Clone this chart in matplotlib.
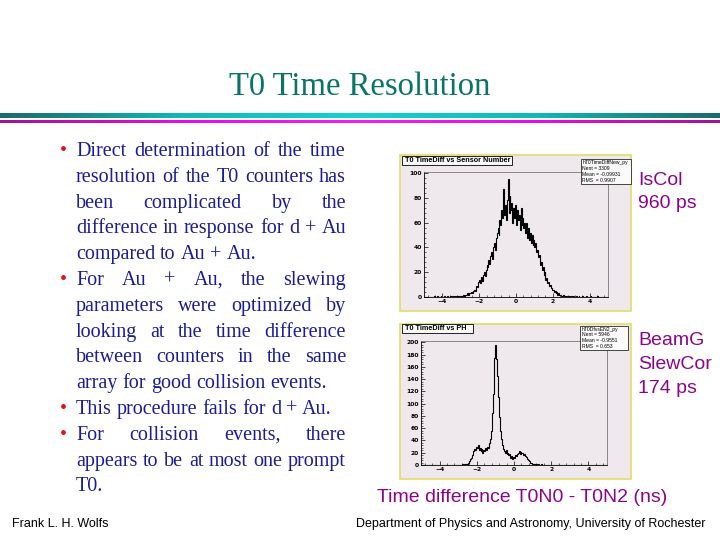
import numpy as np
import matplotlib
matplotlib.use('Agg')
import matplotlib.pyplot as plt
from matplotlib.patches import Rectangle
from matplotlib.colors import LinearSegmentedColormap
from matplotlib.ticker import MultipleLocator, AutoMinorLocator

# histogram contents, 200 bins of 0.05 ns from -5 to 5
HIST_LO, HIST_HI = -5.0, 5.0
iscol_counts = [
    0, 0, 0, 0, 0, 0, 0, 0, 0, 0,
    0, 1, 0, 0, 1, 0, 0, 0, 1, 0,
    0, 0, 1, 0, 0, 1, 0, 0, 1, 1,
    0, 1, 1, 0, 1, 0, 1, 1, 0, 1,
    1, 1, 2, 1, 1, 2, 2, 3, 2, 3,
    3, 4, 3, 5, 6, 5, 7, 9, 8, 12,
    14, 11, 16, 13, 18, 20, 17, 22, 26, 24,
    30, 27, 33, 36, 31, 40, 44, 38, 48, 52,
    56, 50, 62, 58, 70, 64, 87, 66, 74, 62,
    78, 95, 68, 82, 70, 76, 60, 72, 64, 74,
    58, 70, 62, 66, 54, 72, 58, 64, 56, 60,
    52, 60, 48, 56, 46, 52, 44, 50, 42, 46,
    40, 44, 36, 38, 32, 34, 26, 28, 22, 24,
    18, 20, 14, 15, 11, 12, 9, 10, 7, 6,
    6, 4, 5, 3, 4, 2, 3, 2, 2, 1,
    1, 2, 1, 1, 0, 1, 1, 0, 1, 0,
    1, 0, 1, 0, 0, 1, 0, 0, 1, 0,
    0, 0, 1, 0, 0, 0, 1, 0, 0, 0,
    0, 1, 0, 0, 0, 0, 0, 0, 1, 0,
    0, 0, 0, 0, 0, 0, 0, 0, 0, 0,
]
slew_counts = [
    0, 0, 0, 0, 0, 0, 0, 0, 0, 0,
    0, 0, 0, 0, 0, 0, 0, 0, 0, 0,
    0, 0, 0, 0, 0, 0, 0, 0, 0, 0,
    0, 0, 0, 0, 0, 0, 0, 0, 0, 0,
    0, 0, 0, 0, 1, 0, 1, 1, 2, 1,
    2, 4, 6, 9, 12, 16, 22, 26, 24, 30,
    27, 32, 24, 28, 22, 26, 20, 25, 23, 27,
    24, 30, 28, 36, 42, 55, 85, 115, 150, 175,
    195, 172, 145, 110, 78, 55, 42, 32, 26, 22,
    20, 24, 18, 20, 16, 18, 12, 14, 10, 13,
    12, 16, 14, 18, 20, 22, 18, 21, 19, 20,
    17, 18, 14, 13, 10, 8, 6, 4, 3, 2,
    2, 1, 2, 1, 1, 0, 1, 0, 0, 1,
    0, 0, 0, 0, 0, 0, 0, 0, 0, 0,
    0, 0, 0, 0, 0, 0, 0, 0, 0, 0,
    0, 0, 0, 0, 0, 0, 0, 0, 0, 0,
    0, 0, 0, 0, 0, 0, 0, 0, 0, 0,
    0, 0, 0, 0, 0, 0, 0, 0, 0, 0,
    0, 0, 0, 0, 0, 0, 0, 0, 0, 0,
    0, 0, 0, 0, 0, 0, 0, 0, 0, 0,
]
iscol_stats = ['hT0TimeDiffNew_py', 'Nent = 3309', 'Mean = -0.09931', 'RMS  = 0.9907']
slew_stats = ['hT0DfvsEN2_py', 'Nent = 5946', 'Mean = -0.9551', 'RMS  = 0.653']

# slide text: (text, starts with bullet, justified)
body_lines = [
    ('Direct determination of the time', True, True),
    ('resolution of the T0 counters has', False, True),
    ('been complicated by the', False, True),
    ('difference in response for d + Au', False, True),
    ('compared to Au + Au.', False, False),
    ('For Au + Au, the slewing', True, True),
    ('parameters were optimized by', False, True),
    ('looking at the time difference', False, True),
    ('between counters in the same', False, True),
    ('array for good collision events.', False, False),
    ('This procedure fails for d + Au.', True, False),
    ('For collision events, there', True, True),
    ('appears to be at most one prompt', False, True),
    ('T0.', False, False),
]

TEAL = '#0b7468'
NAVY = '#1c1c94'
PURPLE = '#8b058b'
PAD_BG = '#efe9ed'
PAD_EDGE = '#e2dc6a'
W, H = 720, 540

fig = plt.figure(figsize=(7.2, 5.4), dpi=100)
fig.patch.set_facecolor('white')

def px_rect(x0, y0, x1, y1):
    return [x0 / W, 1 - y1 / H, (x1 - x0) / W, (y1 - y0) / H]

bg = fig.add_axes([0, 0, 1, 1])
bg.axis('off')

# title and the two rules under it
bg.text(360, 95, 'T0 Time Resolution', family='Liberation Serif', fontsize=23.5,
        color=TEAL, ha='center', va='baseline')
teal_cmap = LinearSegmentedColormap.from_list('teal', ['#1d6a6a', '#10b8b8', '#14d2d2', '#10b8b8', '#1d6a6a'])
mag_cmap = LinearSegmentedColormap.from_list('mag', ['#a01498', '#e010e0', '#f020f0', '#e010e0', '#a01498'])
grad = np.linspace(0, 1, 256).reshape(1, -1)
bg.imshow(grad, cmap=teal_cmap, extent=[0, W, 118, 113], aspect='auto')
bg.imshow(grad, cmap=mag_cmap, extent=[0, W, 123.5, 121], aspect='auto')
bg.set_xlim(0, W)
bg.set_ylim(H, 0)

# pads
bg.add_patch(Rectangle((400, 155), 231, 156, fc=PAD_BG, ec=PAD_EDGE, lw=1.2))
bg.add_patch(Rectangle((400, 324), 231, 155, fc=PAD_BG, ec=PAD_EDGE, lw=1.2))

edges = np.linspace(HIST_LO, HIST_HI, len(iscol_counts) + 1)

def draw_hist(rect, counts, ymax, ystep):
    ax = fig.add_axes(px_rect(*rect))
    ax.set_facecolor(PAD_BG)
    ax.stairs(counts, edges, color='black', lw=0.8)
    ax.set_xlim(HIST_LO, HIST_HI)
    ax.set_ylim(0, ymax)
    ax.xaxis.set_major_locator(MultipleLocator(2))
    ax.xaxis.set_minor_locator(AutoMinorLocator(5))
    ax.yaxis.set_major_locator(MultipleLocator(ystep))
    ax.yaxis.set_minor_locator(AutoMinorLocator(5))
    ax.tick_params(which='major', direction='in', length=3, width=0.5, labelsize=4.3, pad=1.5)
    ax.tick_params(which='minor', direction='in', length=1.5, width=0.4)
    for lab in ax.get_xticklabels() + ax.get_yticklabels():
        lab.set_fontweight('bold')
    for side in ['top', 'right']:
        ax.spines[side].set_color('#777777')
        ax.spines[side].set_linewidth(0.6)
    for side in ['bottom', 'left']:
        ax.spines[side].set_linewidth(0.6)
    return ax

draw_hist((424, 172, 608, 297), iscol_counts, 101, 20)
draw_hist((421, 341, 607, 465), slew_counts, 202, 20)

# overlay for text and boxes on top of the histograms
ov = fig.add_axes([0, 0, 1, 1])
ov.set_xlim(0, W)
ov.set_ylim(H, 0)
ov.axis('off')
ov.patch.set_alpha(0)

def title_box(x0, y0, x1, y1, label):
    ov.add_patch(Rectangle((x0, y0), x1 - x0, y1 - y0, fc='#fafafa', ec='black', lw=0.6))
    ov.text(x0 + 3, (y0 + y1) / 2 + 0.3, label, fontsize=5.2, fontweight='bold',
            family='Liberation Sans', va='center', ha='left')

def stats_box(x0, y0, x1, y1, lines):
    ov.add_patch(Rectangle((x0, y0), x1 - x0, y1 - y0, fc='#fafafa', ec='black', lw=0.5))
    step = (y1 - y0) / len(lines)
    for k, s in enumerate(lines):
        ov.text(x0 + 1.5, y0 + step * (k + 0.5), s, fontsize=3.6, family='Liberation Sans',
                va='center', ha='left')

title_box(402, 156, 512, 165, 'T0 TimeDiff vs Sensor Number')
title_box(402, 324, 473, 333, 'T0 TimeDiff vs PH')
stats_box(581, 159, 631, 184, iscol_stats)
stats_box(580, 326, 628, 350, slew_stats)

# right-hand labels
side_font = dict(family='Liberation Sans', fontsize=14, color=PURPLE, va='baseline', ha='left')
ov.text(638, 185, 'IsCol', **side_font)
ov.text(638, 208, '960 ps', **side_font)
ov.text(638, 345, 'BeamG', **side_font)
ov.text(638, 369, 'SlewCor', **side_font)
ov.text(638, 393, '174 ps', **side_font)
ov.text(522, 502, 'Time difference T0N0 - T0N2 (ns)', family='Liberation Sans', fontsize=14,
        color=PURPLE, ha='center', va='baseline')

# footer
ov.text(12, 527, 'Frank L. H. Wolfs', family='Liberation Sans', fontsize=9, color='black',
        ha='left', va='baseline')
ov.text(706, 527, 'Department of Physics and Astronomy, University of Rochester',
        family='Liberation Sans', fontsize=9, color='black', ha='right', va='baseline')

# justified body text
renderer = fig.canvas.get_renderer()
LEFT, RIGHT = 76, 346
body_font = dict(family='Liberation Serif', fontsize=14.5, color=NAVY, va='baseline', ha='left')
space = ov.text(0, 0, 'a a', **body_font)
nospace = ov.text(0, 0, 'aa', **body_font)
space_w = space.get_window_extent(renderer).width - nospace.get_window_extent(renderer).width
space.remove()
nospace.remove()

for i, (line, bullet, justify) in enumerate(body_lines):
    y = 156 + 25.8 * i
    if bullet:
        ov.text(60, y, '\u2022', family='Liberation Serif', fontsize=14.5, color='#e0101c',
                va='baseline', ha='left')
    words = line.split(' ')
    texts = [ov.text(0, y, w, **body_font) for w in words]
    widths = [t.get_window_extent(renderer).width for t in texts]
    if justify and len(words) > 1:
        gap = (RIGHT - LEFT - sum(widths)) / (len(words) - 1)
    else:
        gap = space_w
    x = LEFT
    for t, w in zip(texts, widths):
        t.set_x(x)
        x += w + gap

fig.savefig('out.png', dpi=100)
